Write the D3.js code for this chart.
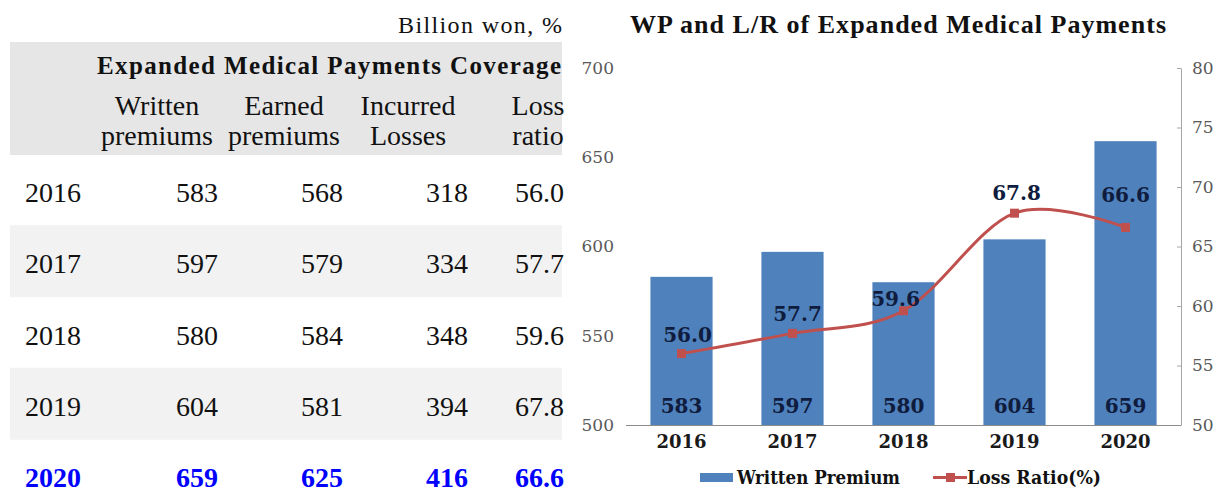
<!DOCTYPE html>
<html>
<head>
<meta charset="utf-8">
<script src="https://cdn.jsdelivr.net/npm/d3@7"></script>
<style>
  html, body { margin: 0; padding: 0; background: #fff; }
  svg { display: block; }
</style>
</head>
<body>
<svg id="chart" width="1220" height="490"></svg>
<script>
// ---------------- DATA ----------------
const years = ["2016", "2017", "2018", "2019", "2020"];
const writtenPremiums = [583, 597, 580, 604, 659];
const earnedPremiums = [568, 579, 584, 581, 625];
const incurredLosses = [318, 334, 348, 394, 416];
const lossRatio = [56.0, 57.7, 59.6, 67.8, 66.6];

const unitLabel = "Billion won, %";
const tableTitle = "Expanded Medical Payments Coverage";
const columnHeaders = [["Written", "premiums"], ["Earned", "premiums"], ["Incurred", "Losses"], ["Loss", "ratio"]];
const chartTitle = "WP and L/R of Expanded Medical Payments";
const leftTicks = [500, 550, 600, 650, 700];
const rightTicks = [50, 55, 60, 65, 70, 75, 80];
const legendLabels = ["Written Premium", "Loss Ratio(%)"];

// ---------------- LAYOUT ----------------
const svg = d3.select("#chart");
svg.append("rect").attr("width", 1220).attr("height", 490).attr("fill", "#fff");

const serif = "'Liberation Serif', 'Times New Roman', serif";
const chartFont = "'DejaVu Serif', serif";

// ---------- Table ----------
const T = svg.append("g");
T.append("text").attr("x", 562).attr("y", 33).attr("text-anchor", "end")
  .attr("font-family", serif).attr("font-size", 24).attr("fill", "#111")
  .attr("textLength", 164).attr("lengthAdjust", "spacing").text(unitLabel);

T.append("rect").attr("x", 10).attr("y", 42).attr("width", 552).attr("height", 113).attr("fill", "#e6e6e6");
T.append("text").attr("x", 97).attr("y", 74)
  .attr("font-family", serif).attr("font-size", 25).attr("font-weight", "bold").attr("fill", "#111")
  .attr("textLength", 464).attr("lengthAdjust", "spacing").text(tableTitle);

const headerCenters = [157, 284, 408, 538];
columnHeaders.forEach((lines, i) => {
  lines.forEach((ln, j) => {
    T.append("text").attr("x", headerCenters[i]).attr("y", 115 + j * 30)
      .attr("text-anchor", "middle").attr("font-family", serif).attr("font-size", 28)
      .attr("fill", "#111").text(ln);
  });
});

const rowY = d3.scaleLinear().domain([0, 4]).range([192, 477]);
const rowH = 72;
const rows = years.map((y, i) => ({ year: y, vals: [writtenPremiums[i], earnedPremiums[i], incurredLosses[i], lossRatio[i].toFixed(1)], i }));
const colRight = [218, 343, 468, 564];

T.selectAll("rect.band").data(rows.filter(r => r.i % 2 === 1)).join("rect")
  .attr("class", "band").attr("x", 10).attr("width", 552)
  .attr("y", d => rowY(d.i) - 38).attr("height", rowH).attr("fill", "#f2f2f2");

const rowG = T.selectAll("g.row").data(rows).join("g").attr("class", "row");
rowG.each(function (d) {
  const g = d3.select(this);
  const last = d.i === rows.length - 1;
  const color = last ? "#0000ff" : "#111";
  const weight = last ? "bold" : "normal";
  g.append("text").attr("x", 25).attr("y", rowY(d.i) + 10)
    .attr("font-family", serif).attr("font-size", 28).attr("font-weight", weight).attr("fill", color)
    .text(d.year);
  d.vals.forEach((v, k) => {
    g.append("text").attr("x", colRight[k]).attr("y", rowY(d.i) + 10).attr("text-anchor", "end")
      .attr("font-family", serif).attr("font-size", 28).attr("font-weight", weight).attr("fill", color)
      .text(v);
  });
});

// ---------- Chart ----------
const C = svg.append("g");
C.append("text").attr("x", 630).attr("y", 33)
  .attr("font-family", serif).attr("font-size", 26).attr("font-weight", "bold").attr("fill", "#111")
  .attr("textLength", 536).attr("lengthAdjust", "spacing").text(chartTitle);

const x = d3.scaleBand().domain(years).range([626, 1181]).paddingInner(0.44).paddingOuter(0.22);
const yL = d3.scaleLinear().domain([500, 700]).range([425, 68]);
const yR = d3.scaleLinear().domain([50, 80]).range([425, 68]);

// left axis (labels only)
const axL = C.append("g").attr("transform", "translate(626,0)")
  .call(d3.axisLeft(yL).tickValues(leftTicks).tickSize(0).tickPadding(12));
axL.select(".domain").remove();
axL.selectAll("text").attr("font-family", chartFont).attr("font-size", 17).attr("fill", "#595959");

// right axis
const axR = C.append("g").attr("transform", "translate(1181,0)")
  .call(d3.axisRight(yR).tickValues(rightTicks).tickSizeInner(-4).tickSizeOuter(0).tickPadding(11));
axR.select(".domain").attr("stroke", "#a6a6a6");
axR.selectAll(".tick line").attr("stroke", "#a6a6a6");
axR.selectAll("text").attr("font-family", chartFont).attr("font-size", 17).attr("fill", "#595959");

// bars
C.selectAll("rect.bar").data(years).join("rect").attr("class", "bar")
  .attr("x", d => x(d)).attr("width", x.bandwidth())
  .attr("y", (d, i) => yL(writtenPremiums[i]))
  .attr("height", (d, i) => yL(500) - yL(writtenPremiums[i]))
  .attr("fill", "#4f81bd");

// bottom axis
const axB = C.append("g").attr("transform", "translate(0,425)")
  .call(d3.axisBottom(x).tickSize(0).tickPadding(10));
axB.select(".domain").attr("stroke", "#8c8c8c").attr("d", "M626,0.5H1181");
axB.selectAll("text").attr("font-family", chartFont).attr("font-size", 18).attr("font-weight", "bold").attr("fill", "#1a1a1a");

// bar value labels
C.selectAll("text.barlab").data(years).join("text").attr("class", "barlab")
  .attr("x", d => x(d) + x.bandwidth() / 2).attr("y", yL(500) - 12)
  .attr("text-anchor", "middle").attr("font-family", chartFont).attr("font-size", 20)
  .attr("font-weight", "bold").attr("fill", "#0f1c3d")
  .text((d, i) => writtenPremiums[i]);

// loss ratio line
const pts = years.map((d, i) => [x(d) + x.bandwidth() / 2, yR(lossRatio[i])]);
C.append("path").attr("d", d3.line().curve(d3.curveCardinal.tension(0))(pts))
  .attr("fill", "none").attr("stroke", "#c0504d").attr("stroke-width", 3);
C.selectAll("rect.mk").data(pts).join("rect").attr("class", "mk")
  .attr("x", d => d[0] - 4.5).attr("y", d => d[1] - 4.5).attr("width", 9).attr("height", 9)
  .attr("fill", "#c0504d");

// loss ratio labels (offsets as placed in the original)
const lineLabelDy = [-12, -12, -5, -13, -25];
const lineLabelDx = [6, 5, -8, 2, 0];
C.selectAll("text.lrlab").data(pts).join("text").attr("class", "lrlab")
  .attr("x", (d, i) => d[0] + lineLabelDx[i]).attr("y", (d, i) => d[1] + lineLabelDy[i])
  .attr("text-anchor", "middle").attr("font-family", chartFont).attr("font-size", 20)
  .attr("font-weight", "bold").attr("fill", "#0f1c3d")
  .text((d, i) => lossRatio[i].toFixed(1));

// legend
const L = C.append("g");
L.append("rect").attr("x", 700).attr("y", 473).attr("width", 33).attr("height", 9).attr("fill", "#4f81bd");
L.append("text").attr("x", 737).attr("y", 484).attr("font-family", chartFont).attr("font-size", 19)
  .attr("font-weight", "bold").attr("fill", "#111").attr("textLength", 163).attr("lengthAdjust", "spacingAndGlyphs")
  .text(legendLabels[0]);
L.append("line").attr("x1", 933).attr("x2", 967).attr("y1", 477.5).attr("y2", 477.5)
  .attr("stroke", "#c0504d").attr("stroke-width", 3);
L.append("rect").attr("x", 946).attr("y", 473).attr("width", 9).attr("height", 9).attr("fill", "#c0504d");
L.append("text").attr("x", 967).attr("y", 484).attr("font-family", chartFont).attr("font-size", 19)
  .attr("font-weight", "bold").attr("fill", "#111").attr("textLength", 134).attr("lengthAdjust", "spacingAndGlyphs")
  .text(legendLabels[1]);
</script>
</body>
</html>
